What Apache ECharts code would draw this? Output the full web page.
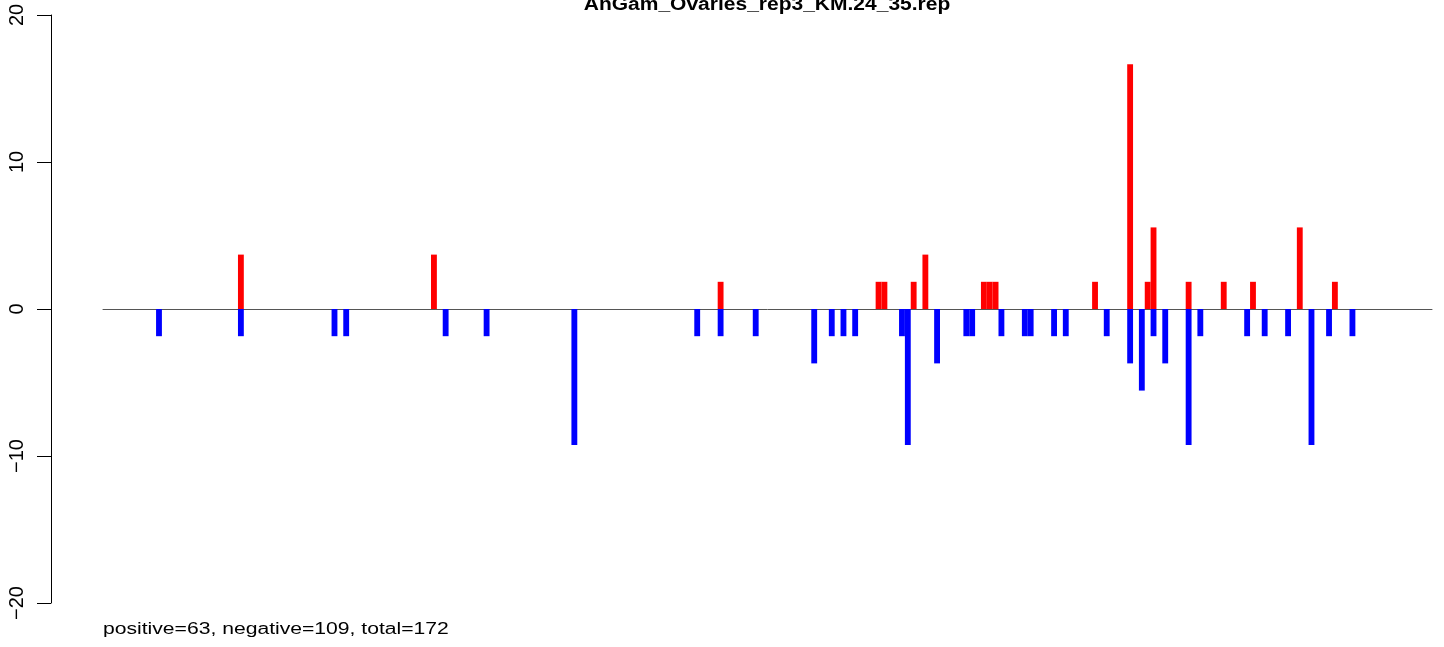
<!DOCTYPE html>
<html>
<head>
<meta charset="utf-8">
<script src="https://cdn.jsdelivr.net/npm/echarts@6/dist/echarts.min.js"></script>
<style>html,body{margin:0;padding:0;background:#fff}#c{width:1444px;height:647px}</style>
</head>
<body>
<div id="c"></div>
<script>
// Data: bin position and value
const redPos = [14, 47, 96, 123, 124, 129, 131, 141, 142, 143, 160, 166, 169, 170, 176, 182, 187, 195, 201];
const redVal = [3.7, 3.7, 1.85, 1.85, 1.85, 1.85, 3.7, 1.85, 1.85, 1.85, 1.85, 16.65, 1.85, 5.55, 1.85, 1.85, 1.85, 5.55, 1.85];
const bluePos = [0, 14, 30, 32, 49, 56, 71, 92, 96, 102, 112, 115, 117, 119, 127, 128, 133, 138, 139, 144, 148, 149, 153, 155, 162, 166, 168, 170, 172, 176, 178, 186, 189, 193, 197, 200, 204];
const blueVal = [-1.85, -1.85, -1.85, -1.85, -1.85, -1.85, -9.25, -1.85, -1.85, -1.85, -3.7, -1.85, -1.85, -1.85, -1.85, -9.25, -3.7, -1.85, -1.85, -1.85, -1.85, -1.85, -1.85, -1.85, -1.85, -3.7, -5.55, -1.85, -3.7, -9.25, -1.85, -1.85, -1.85, -1.85, -9.25, -1.85, -1.85];
const yTicks = [-20, -10, 0, 10, 20];
const titleText = 'AnGam_Ovaries_rep3_KM.24_35.rep';
const footerText = 'positive=63, negative=109, total=172';

const chart = echarts.init(document.getElementById('c'), null, {renderer: 'canvas'});
const FONT = '"Liberation Sans", Arial, Helvetica, sans-serif';
chart.setOption({
  animation: false,
  backgroundColor: '#ffffff',
  grid: {left: 103, right: 12, top: 15, bottom: 44, containLabel: false},
  xAxis: {
    type: 'value', min: -9.57, max: 217.6,
    axisLine: {show: true, onZero: true, lineStyle: {color: '#555555', width: 1}},
    axisTick: {show: false}, axisLabel: {show: false}, splitLine: {show: false}
  },
  yAxis: {
    type: 'value', min: yTicks[0], max: yTicks[yTicks.length - 1], interval: 10,
    offset: 52,
    axisLine: {show: true, onZero: false, lineStyle: {color: '#000', width: 1}},
    axisTick: {show: true, length: 14, lineStyle: {color: '#000', width: 1}},
    axisLabel: {show: true, rotate: 90, margin: 24, color: '#000', fontSize: 20, fontFamily: FONT,
      formatter: v => String(v).replace('-', '\u2212')},
    splitLine: {show: false}
  },
  series: [
    {type: 'bar', name: 'positive', barWidth: 5.85, barGap: '-100%',
     itemStyle: {color: '#ff0000'},
     data: redPos.map((p, i) => [p, redVal[i]])},
    {type: 'bar', name: 'negative', barWidth: 5.85, barGap: '-100%',
     itemStyle: {color: '#0000ff'},
     data: bluePos.map((p, i) => [p, blueVal[i]])}
  ],
  graphic: [
    {type: 'text', x: 767, y: 5, scaleX: 1.2,
     style: {text: titleText, fill: '#000', font: 'bold 17.5px ' + FONT, textAlign: 'center', textVerticalAlign: 'middle'}},
    {type: 'text', x: 103, y: 629.5, scaleX: 1.32,
     style: {text: footerText, fill: '#000', font: '16px ' + FONT, textAlign: 'left', textVerticalAlign: 'middle'}}
  ]
});
</script>
</body>
</html>
